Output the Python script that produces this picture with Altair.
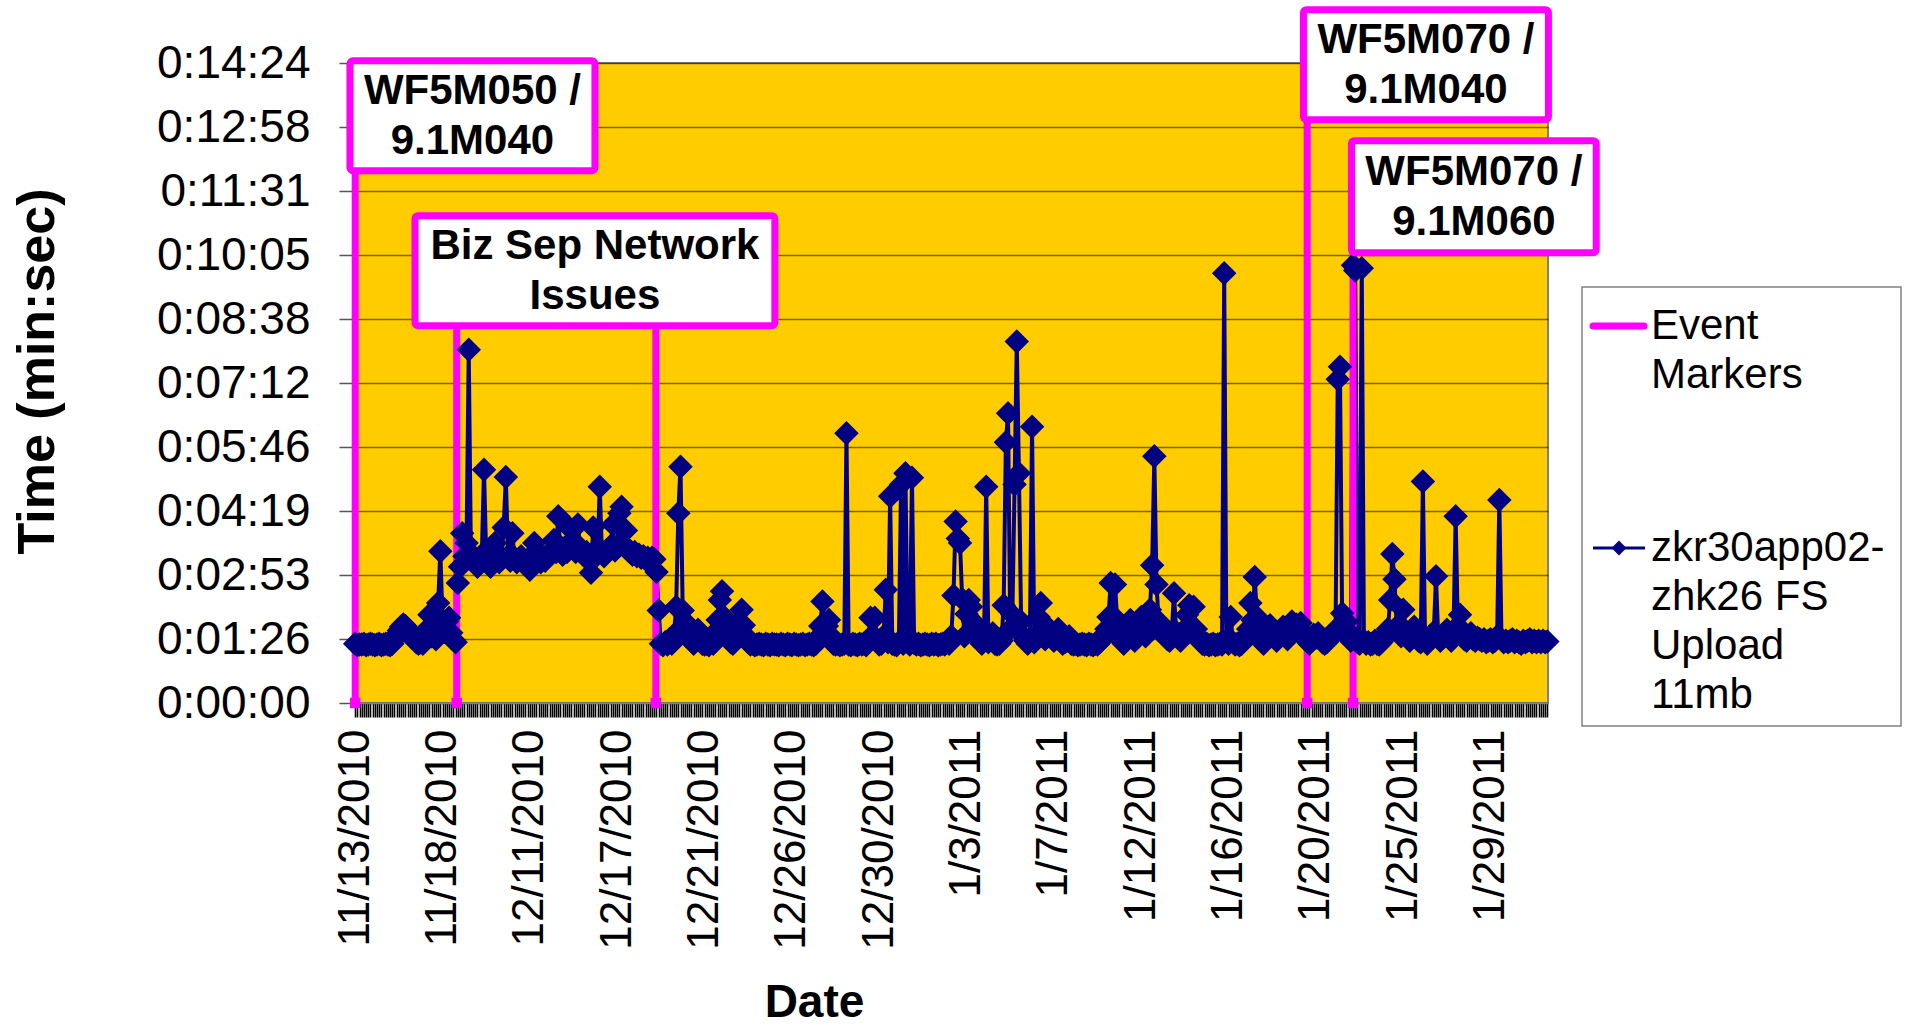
import json
import altair as alt
import pandas as pd

# ---------------- data ----------------
X_LABELS = ["11/13/2010", "11/18/2010", "12/11/2010", "12/17/2010", "12/21/2010",
            "12/26/2010", "12/30/2010", "1/3/2011", "1/7/2011", "1/12/2011",
            "1/16/2011", "1/20/2011", "1/25/2011", "1/29/2011"]
SAMPLES_PER_LABEL = 40

Y_TICK_SECONDS = [0, 86.4, 172.8, 259.2, 345.6, 432, 518.4, 604.8, 691.2, 777.6, 864]
Y_TICK_LABELS = ["0:00:00", "0:01:26", "0:02:53", "0:04:19", "0:05:46", "0:07:12",
                 "0:08:38", "0:10:05", "0:11:31", "0:12:58", "0:14:24"]

# upload time in seconds, one value per sample
UPLOAD_SECONDS = [
    # from 11/13/2010
    80, 78, 79, 79, 80, 78, 79, 80, 79, 78, 79, 80, 78, 79, 80, 79, 78, 80, 86, 92,
    98, 103, 106, 104, 100, 95, 90, 86, 82, 80, 82, 80, 84, 100, 119, 90, 96, 86, 135, 205,
    # from 11/18/2010
    112, 96, 110, 115, 95, 85, 82, 162, 184, 229, 198, 216, 477, 200, 192, 196, 184, 194, 200, 315,
    198, 192, 184, 198, 216, 196, 190, 194, 237, 305, 198, 192, 229, 196, 190, 194, 198, 192, 188, 194,
    # from 12/11/2010
    180, 196, 216, 198, 194, 190, 196, 192, 198, 202, 206, 220, 204, 252, 206, 200, 210, 204, 237, 216,
    208, 204, 241, 210, 202, 198, 204, 196, 176, 237, 206, 200, 292, 204, 198, 202, 208, 212, 241, 206,
    # from 12/17/2010
    210, 256, 265, 214, 233, 206, 204, 200, 204, 198, 200, 196, 198, 194, 196, 192, 196, 194, 177, 125,
    80, 78, 82, 79, 86, 80, 92, 130, 256, 319, 125, 110, 98, 90, 84, 80, 86, 99, 88, 80,
    # from 12/21/2010
    79, 80, 78, 82, 80, 96, 112, 139, 151, 116, 100, 88, 82, 80, 84, 96, 110, 126, 105, 90,
    82, 79, 80, 78, 79, 80, 79, 78, 80, 79, 78, 80, 79, 79, 78, 80, 79, 78, 80, 79,
    # from 12/26/2010
    78, 80, 79, 78, 79, 80, 78, 79, 80, 79, 78, 80, 88, 104, 137, 98, 104, 112, 90, 80,
    79, 80, 78, 79, 80, 364, 79, 78, 80, 79, 78, 80, 79, 80, 78, 82, 115, 92, 115, 84,
    # from 12/30/2010
    79, 80, 90, 153, 82, 279, 80, 79, 78, 82, 295, 80, 310, 82, 79, 304, 81, 79, 80, 78,
    79, 80, 79, 78, 80, 79, 80, 78, 79, 80, 79, 82, 80, 90, 145, 245, 222, 216, 140, 90,
    # from 1/3/2011
    120, 139, 130, 110, 105, 92, 84, 80, 86, 292, 82, 88, 94, 80, 79, 80, 84, 132, 352, 391,
    100, 119, 295, 488, 310, 110, 90, 84, 80, 86, 373, 82, 90, 116, 135, 98, 86, 92, 100, 88,
    # from 1/7/2011
    84, 90, 100, 86, 80, 82, 84, 90, 80, 79, 80, 78, 79, 80, 79, 78, 80, 79, 78, 80,
    79, 82, 86, 92, 100, 116, 162, 105, 160, 112, 90, 84, 80, 86, 95, 112, 90, 84, 92, 100,
    # from 1/12/2011
    116, 96, 90, 100, 126, 186, 333, 160, 110, 102, 96, 90, 86, 84, 96, 148, 96, 88, 84, 90,
    100, 119, 132, 104, 130, 100, 90, 84, 80, 79, 80, 78, 79, 80, 78, 79, 80, 79, 580, 84,
    # from 1/16/2011
    80, 116, 82, 79, 80, 78, 80, 84, 90, 100, 135, 112, 170, 116, 92, 84, 80, 86, 94, 105,
    100, 88, 84, 94, 98, 103, 92, 86, 96, 110, 98, 106, 96, 108, 96, 88, 84, 80, 86, 92,
    # from 1/20/2011
    88, 94, 86, 82, 80, 82, 86, 90, 96, 99, 437, 454, 121, 110, 110, 96, 84, 591, 584, 82,
    80, 587, 84, 80, 82, 79, 80, 84, 80, 79, 82, 86, 92, 100, 139, 201, 167, 103, 96, 90,
    # from 1/25/2011
    126, 98, 88, 84, 92, 103, 90, 84, 82, 299, 84, 80, 86, 90, 96, 171, 90, 84, 88, 94,
    99, 90, 84, 92, 252, 104, 119, 92, 86, 84, 90, 94, 86, 84, 88, 86, 84, 86, 82, 84,
    # from 1/29/2011
    86, 82, 84, 90, 274, 86, 82, 84, 82, 84, 86, 82, 84, 82, 80, 84, 82, 84, 86, 82,
    84, 82, 84, 82, 84, 82, 83,
]
assert len(UPLOAD_SECONDS) == 547, len(UPLOAD_SECONDS)

# event marker series: sample position and top value (seconds)
EVENT_SAMPLE = [0, 46.5, 137.7, 436, 457]
EVENT_TOP_SECONDS = [718.6, 509.4, 509.4, 787.5, 607.9]

# annotation text boxes (in sample / seconds units)
NOTE_TEXT = ["WF5M050 /\n9.1M040", "Biz Sep Network\nIssues",
             "WF5M070 /\n9.1M040", "WF5M070 /\n9.1M060"]
NOTE_X1 = [-2.4, 27.4, 434.3, 456.3]
NOTE_X2 = [109.8, 192.2, 546.5, 568.4]
NOTE_Y1 = [718.6, 509.4, 787.5, 607.9]
NOTE_Y2 = [867.0, 657.9, 936.0, 759.1]

LEGEND_LABELS = ["Event\nMarkers", "zkr30app02-\nzhk26 FS\nUpload\n11mb"]

# ---------------- styling ----------------
W, H = 1195, 640
FONT = "Liberation Sans"
MAGENTA = "#FF00FF"
NAVY = "#000080"
N = len(UPLOAD_SECONDS)

xscale = alt.Scale(domain=[-1, N - 0.7], nice=False, zero=False)
yscale = alt.Scale(domain=[0, 864], nice=False, zero=False)

x_label_js = json.dumps(X_LABELS)
y_label_js = json.dumps(Y_TICK_LABELS)
step = SAMPLES_PER_LABEL

x_axis = alt.Axis(
    values=list(range(N)),
    labelExpr=f"datum.value % {step} == 0 ? {x_label_js}[datum.value / {step}] : ''",
    labelAngle=270, labelFont=FONT, labelFontSize=44, labelColor="black",
    labelPadding=12, labelOverlap=False, labelBound=False, labelFlush=False,
    labelLimit=0,
    tickSize=14, tickColor="#000000", tickWidth=1.6,
    domainColor="#808080", domainWidth=1.5, grid=False,
    title="Date", titleFont=FONT, titleFontSize=46, titleFontWeight="bold",
    titleColor="black", titleX=461, titleY=313, titleAlign="center",
    titleBaseline="alphabetic",
)
y_axis = alt.Axis(
    values=Y_TICK_SECONDS,
    labelExpr=f"{y_label_js}[round(datum.value / {Y_TICK_SECONDS[1]})]",
    labelFont=FONT, labelFontSize=46, labelColor="black", labelPadding=29,
    labelLimit=0,
    tickSize=14, tickColor="#555555", tickWidth=1.5,
    domainColor="#808080", domainWidth=1.5,
    grid=True, gridColor="#000000", gridOpacity=0.5, gridWidth=1.5,
    title="Time (min:sec)", titleFont=FONT, titleFontSize=52, titleFontWeight="bold",
    titleColor="black", titleAngle=270, titleX=-300, titleY=308,
    titleAlign="center", titleBaseline="alphabetic",
)


def X(field):
    return alt.X(field, scale=xscale, axis=x_axis)


def Y(field):
    return alt.Y(field, scale=yscale, axis=y_axis)


series_df = pd.DataFrame({"x": list(range(N)), "y": UPLOAD_SECONDS})
event_df = pd.DataFrame({"x": EVENT_SAMPLE, "y": [0] * len(EVENT_SAMPLE),
                         "top": EVENT_TOP_SECONDS})
note_df = pd.DataFrame({"x": NOTE_X1, "x2": NOTE_X2, "y": NOTE_Y1, "y2": NOTE_Y2,
                        "text": NOTE_TEXT})

line = alt.Chart(series_df).mark_line(color=NAVY, strokeWidth=4).encode(
    x=X("x:Q"), y=Y("y:Q"))
events = alt.Chart(event_df).mark_rule(color=MAGENTA, strokeWidth=7).encode(
    x=X("x:Q"), y=Y("y:Q"), y2="top:Q")
event_feet = alt.Chart(event_df).mark_square(color=MAGENTA, size=110, opacity=1).encode(
    x=X("x:Q"), y=Y("y:Q"))
points = alt.Chart(series_df).mark_point(shape="diamond", filled=True, size=600,
                                         color=NAVY, opacity=1).encode(
    x=X("x:Q"), y=Y("y:Q"))

note_boxes = alt.Chart(note_df).mark_rect(fill="white", stroke=MAGENTA, strokeWidth=7,
                                          cornerRadius=3).encode(
    x=X("x:Q"), x2="x2:Q", y=Y("y:Q"), y2="y2:Q")
note_text = alt.Chart(note_df).transform_calculate(
    cx="(datum.x + datum.x2) / 2", cy="(datum.y + datum.y2) / 2"
).mark_text(font=FONT, fontSize=42, fontWeight="bold", color="black",
            lineBreak="\n", lineHeight=50, align="center", baseline="middle",
            dy=-25).encode(
    x=X("cx:Q"), y=Y("cy:Q"), text="text:N")

# legend (drawn to the right of the plot)
one = pd.DataFrame({"k": [0]})
legend_box = alt.Chart(one).mark_rect(fill="white", stroke="#808080", strokeWidth=1.5).encode(
    x=alt.value(1229), x2=alt.value(1548), y=alt.value(224), y2=alt.value(663))
legend_sym1 = alt.Chart(one).mark_rule(color=MAGENTA, strokeWidth=7, strokeCap="round").encode(
    x=alt.value(1240), x2=alt.value(1291), y=alt.value(263))
legend_sym2 = alt.Chart(one).mark_rule(color=NAVY, strokeWidth=3).encode(
    x=alt.value(1240), x2=alt.value(1292), y=alt.value(485))
legend_dia = alt.Chart(one).mark_point(shape="diamond", filled=True, size=220, color=NAVY,
                                       opacity=1).encode(
    x=alt.value(1266), y=alt.value(485))
legend_txt1 = alt.Chart(one).mark_text(font=FONT, fontSize=42, color="black", align="left",
                                       baseline="middle", lineBreak="\n", lineHeight=49,
                                       text=LEGEND_LABELS[0]).encode(
    x=alt.value(1298), y=alt.value(263))
legend_txt2 = alt.Chart(one).mark_text(font=FONT, fontSize=42, color="black", align="left",
                                       baseline="middle", lineBreak="\n", lineHeight=49,
                                       text=LEGEND_LABELS[1]).encode(
    x=alt.value(1298), y=alt.value(485))

chart = alt.layer(
    line, events, event_feet, points, note_boxes, note_text,
    legend_box, legend_sym1, legend_sym2, legend_dia, legend_txt1, legend_txt2,
).properties(
    width=W, height=H,
    autosize=alt.AutoSizeParams(type="none"),
    padding={"left": 353, "top": 63, "right": 360, "bottom": 325},
    background="white",
).configure_view(fill="#FFCC00", stroke="#808080", strokeWidth=2)

chart.save("out.html", embed_options={"renderer": "svg", "actions": False})
